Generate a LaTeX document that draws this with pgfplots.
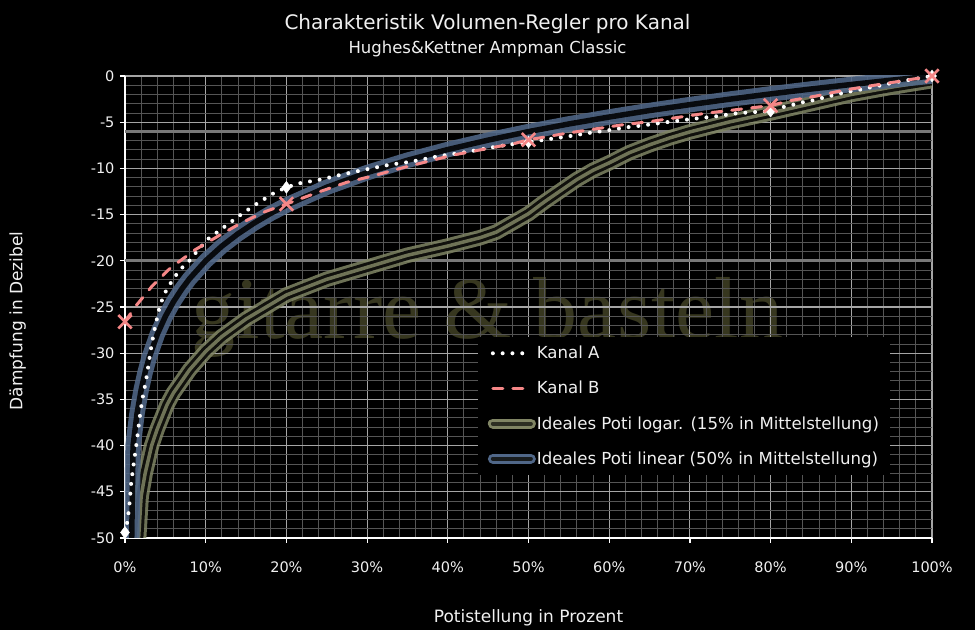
\documentclass[border=0pt]{standalone}
\usepackage{fontspec}
\setmainfont{DejaVu Sans}
\newfontfamily\wmfont{Liberation Serif}
\usepackage{pgfplots}
\usepackage{pgfplotstable}
\pgfplotsset{compat=1.18}
\definecolor{kbpink}{RGB}{245,135,135}
\definecolor{linblue}{RGB}{80,103,136}
\definecolor{logol}{RGB}{128,133,100}
\definecolor{logdark}{RGB}{45,47,35}
\definecolor{wmcol}{RGB}{55,55,31}
\definecolor{majgrid}{RGB}{165,165,165}
\definecolor{mingrid}{RGB}{85,85,85}
\definecolor{refline}{RGB}{120,120,120}
\definecolor{txt}{RGB}{240,240,240}

\pgfplotstableread{
x y
0 -49.4
0.33 -48.1
0.58 -46.1
0.78 -43.9
0.95 -42.8
1.12 -41.7
1.28 -40.7
1.45 -39.6
1.61 -38.5
1.9 -36.4
2.1 -35.3
2.31 -34.2
2.56 -33.2
2.76 -32.1
2.96 -31.0
3.14 -29.9
3.35 -28.9
3.55 -27.85
3.83 -26.8
4.09 -25.7
4.4 -24.7
4.87 -23.6
5.45 -22.7
6.19 -21.7
7.0 -20.8
7.8 -20.2
8.5 -19.4
10.2 -17.7
12.2 -16.4
14.2 -15.1
16.2 -13.9
18.4 -12.7
20.0 -12.05
21.7 -11.6
24.3 -11.2
26.7 -10.7
29.1 -10.25
32.8 -9.6
35.3 -9.3
39.0 -8.66
42.5 -8.2
46.3 -7.6
48.6 -7.3
50 -7.15
52.4 -6.85
54.8 -6.55
57.2 -6.2
59.7 -5.9
62.2 -5.55
64.6 -5.3
67.1 -5.0
70.8 -4.6
73.2 -4.37
75.7 -4.04
78.1 -3.9
80 -3.8
81.8 -3.3
83 -3.07
84.3 -2.78
85.5 -2.6
86.7 -2.3
87.9 -2.06
89.1 -1.8
90.3 -1.59
91.6 -1.4
92.7 -1.15
94 -0.97
95.2 -0.72
96.4 -0.54
97.6 -0.36
100 0
}\kanalA

\pgfplotstableread{
x y
0 -26.6
1.24 -25.0
3.3 -22.8
5.6 -20.8
8.7 -18.8
11.4 -17.4
14.2 -16.0
17.3 -14.7
20 -13.85
24.2 -12.5
27.5 -11.5
30.8 -10.8
34.1 -10.0
37.4 -9.27
40.7 -8.55
45.2 -7.8
48.3 -7.3
50 -6.9
51.4 -6.7
54.7 -6.2
58.2 -5.74
61.5 -5.3
65 -4.94
68.6 -4.47
71.9 -4.04
75.4 -3.68
80 -3.2
82.4 -2.67
85.7 -2.16
89 -1.55
92.5 -1.05
95.8 -0.6
100 0
}\kanalB

\pgfplotstableread{
x y
1.2 -57
2 -45.5
2.5 -43.0
3.3 -40.0
4 -38.2
5.2 -35.6
6 -34.3
8 -31.8
10 -29.8
12 -28.2
15 -26.3
20 -23.7
25 -22.0
30 -20.7
35 -19.4
40 -18.4
44 -17.5
46 -16.9
48 -15.9
50 -14.9
52 -13.6
54 -12.4
56 -11.2
58 -10.2
60 -9.4
62.5 -8.3
65 -7.45
67.5 -6.7
70 -6.05
75 -4.95
80 -4.0
85 -3.0
90 -2.0
95 -1.2
100 -0.5
}\logar

\pgfplotstableread{
x y
0 -100
1 -40.00
1.5 -36.48
2 -33.98
2.5 -32.04
3 -30.46
4 -27.96
5 -26.02
6 -24.44
7 -23.10
8 -21.94
10 -20.00
12 -18.42
14 -17.08
16 -15.92
18 -14.89
20 -13.98
25 -12.04
30 -10.46
35 -9.12
40 -7.96
45 -6.94
50 -6.02
55 -5.19
60 -4.44
65 -3.74
70 -3.10
75 -2.50
80 -1.94
85 -1.41
90 -0.92
95 -0.45
100 0
}\linear

\begin{document}
\begin{tikzpicture}
\fill[black] (0pt,0pt) rectangle (975pt,630pt);
\node[text=txt, font=\fontsize{20}{20}\selectfont] at (487.5pt,606pt) {Charakteristik Volumen-Regler pro Kanal};
\node[text=txt, font=\fontsize{16.5}{16.5}\selectfont] at (487.5pt,581pt) {Hughes\&Kettner Ampman Classic};
\node[text=wmcol, font=\wmfont\fontsize{88}{88}\selectfont, anchor=base] at (487.5pt,291pt) {gitarre \& basteln};
\begin{axis}[
  at={(125pt,92pt)}, anchor=south west, scale only axis,
  width=807pt, height=462pt,
  xmin=0, xmax=100, ymin=-50, ymax=0,
  axis x line*=bottom, axis y line*=left,
  axis line style={white, line width=1.6pt},
  xtick={0,10,...,100},
  xticklabels={0\%,10\%,20\%,30\%,40\%,50\%,60\%,70\%,80\%,90\%,100\%},
  ytick={-50,-45,...,0},
  yticklabels={-50,-45,-40,-35,-30,-25,-20,-15,-10,-5,0},
  minor x tick num=4, minor y tick num=4,
  tick align=outside,
  major tick length=5pt, minor tick length=0pt,
  major tick style={white, line width=1.2pt},
  grid=both,
  major grid style={majgrid, line width=1.1pt},
  minor grid style={mingrid, line width=0.9pt},
  xticklabel style={text=txt, font=\fontsize{14.5}{14.5}\selectfont, anchor=center, yshift=-24pt},
  yticklabel style={text=txt, font=\fontsize{14.5}{14.5}\selectfont, xshift=-2pt},
  xlabel={Potistellung in Prozent},
  ylabel={Dämpfung in Dezibel},
  xlabel style={text=txt, font=\fontsize{17}{17}\selectfont, at={(axis description cs:0.5,-0.173)}, anchor=center},
  ylabel style={text=txt, font=\fontsize{17}{17}\selectfont, at={(axis description cs:-0.133,0.47)}, anchor=center},
  legend image code/.code={\draw[#1] (0pt,0pt) -- (38pt,0pt);},
  legend style={at={(0.437,0.435)}, anchor=north west, fill=black, draw=none,
    text=txt, font=\fontsize{16.6}{16.6}\selectfont, inner xsep=10pt, inner ysep=7pt,
    row sep=17pt, nodes={inner xsep=1pt}},
  legend cell align=left,
]
\addplot[refline, line width=3pt, forget plot] coordinates {(0,-6) (100,-6)};
\addplot[refline, line width=3pt, forget plot] coordinates {(0,-20) (100,-20)};
\addplot[logol, opacity=0.85, line width=3pt, double=black, double distance=9.5pt, forget plot] table {\logar};
\addplot[logol, opacity=0.85, line width=3.5pt, forget plot] table {\logar};
\addplot[linblue, opacity=0.88, line width=5pt, double=black, double distance=5.5pt, forget plot] table {\linear};
\addplot[white, line width=4pt, line cap=round, dash pattern=on 0pt off 9.8pt] table {\kanalA};
\addlegendentry{Kanal A}
\addplot[kbpink, line width=3pt, line cap=round, dash pattern=on 10pt off 10pt] table {\kanalB};
\addlegendentry{Kanal B}
\addplot[only marks, mark=diamond*, mark size=6pt, white, mark options={fill=white, draw=white}, forget plot] coordinates {(0,-49.4) (20,-12.05) (50,-7.15) (80,-3.8) (100,0)};
\addplot[only marks, mark=x, mark size=9.5pt, kbpink, mark options={line width=2.6pt}, forget plot] coordinates {(0,-26.6) (20,-13.85) (50,-6.9) (80,-3.2) (100,0)};
\addlegendimage{logol, line width=3pt, double=logdark, double distance=4pt, line cap=round}
\addlegendentry{Ideales Poti logar. (15\% in Mittelstellung)}
\addlegendimage{linblue, line width=3pt, double=logdark!60!linblue!40!black, double distance=4pt, line cap=round}
\addlegendentry{Ideales Poti linear (50\% in Mittelstellung)}
\end{axis}
\end{tikzpicture}
\end{document}
